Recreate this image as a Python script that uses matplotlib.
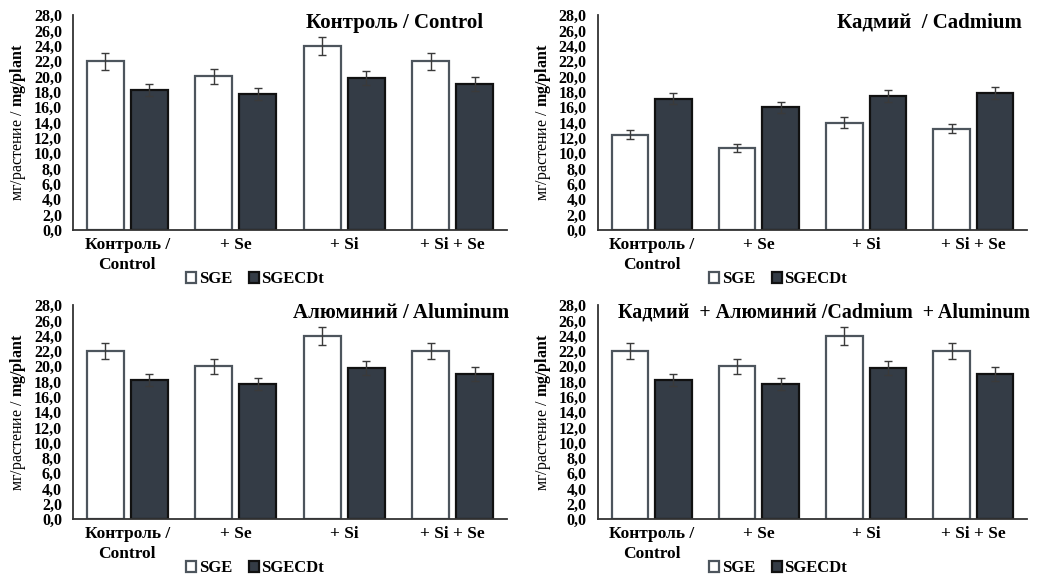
import numpy as np
import matplotlib.pyplot as plt

plt.rcParams['font.family'] = ['Liberation Serif', 'DejaVu Serif']
plt.rcParams['mathtext.fontset'] = 'custom'
plt.rcParams['mathtext.rm'] = 'Liberation Serif'
plt.rcParams['mathtext.bf'] = 'Liberation Serif:bold'

# ---- data ----
groups = ['Контроль /\nControl', '+ Se', '+ Si', '+ Si + Se']
series = ['SGE', 'SGECDt']

ctrl_sge = [22.0, 20.0, 24.0, 22.0]
ctrl_sgecdt = [18.2, 17.7, 19.8, 19.0]
ctrl_sge_err = [1.1, 1.0, 1.2, 1.1]
ctrl_sgecdt_err = [0.8, 0.8, 0.9, 0.9]

cd_sge = [12.4, 10.7, 14.0, 13.2]
cd_sgecdt = [17.1, 16.0, 17.5, 17.8]
cd_sge_err = [0.6, 0.5, 0.7, 0.6]
cd_sgecdt_err = [0.7, 0.7, 0.8, 0.8]

al_sge = [22.0, 20.0, 24.0, 22.0]
al_sgecdt = [18.2, 17.7, 19.8, 19.0]
al_sge_err = [1.1, 1.0, 1.2, 1.1]
al_sgecdt_err = [0.8, 0.8, 0.9, 0.9]

cdal_sge = [22.0, 20.0, 24.0, 22.0]
cdal_sgecdt = [18.2, 17.7, 19.8, 19.0]
cdal_sge_err = [1.1, 1.0, 1.2, 1.1]
cdal_sgecdt_err = [0.8, 0.8, 0.9, 0.9]

titles = ['Контроль / Control', 'Кадмий  / Cadmium',
          'Алюминий / Aluminum', 'Кадмий  + Алюминий /Cadmium  + Aluminum']
yticks = np.arange(0, 28.1, 2)
ylabel = r'мг/растение / $\mathbf{mg/plant}$'

# ---- layout (figure fractions) ----
panels = [
    ([0.0696, 0.602, 0.4137, 0.372], ctrl_sge, ctrl_sgecdt, ctrl_sge_err, ctrl_sgecdt_err, 0.945, 15),
    ([0.570, 0.602, 0.409, 0.372], cd_sge, cd_sgecdt, cd_sge_err, cd_sgecdt_err, 0.988, 15),
    ([0.0696, 0.102, 0.4137, 0.370], al_sge, al_sgecdt, al_sge_err, al_sgecdt_err, 1.005, 15),
    ([0.570, 0.102, 0.409, 0.370], cdal_sge, cdal_sgecdt, cdal_sge_err, cdal_sgecdt_err, 1.007, 14.4),
]

light_face = 'white'
light_edge = '#4d555d'
dark_face = '#343c46'
dark_edge = '#111111'
err_color = '#3a3a3a'

fig = plt.figure(figsize=(10.49, 5.78), dpi=100)

x = np.arange(len(groups))
w = 0.34
gap = 0.065

for (rect, v1, v2, e1, e2, tx, tsize), title in zip(panels, titles):
    ax = fig.add_axes(rect)
    ax.bar(x - (w + gap) / 2, v1, width=w, color=light_face, edgecolor=light_edge,
           linewidth=1.6, yerr=e1, error_kw=dict(ecolor=err_color, elinewidth=1, capsize=3, capthick=1),
           label=series[0])
    ax.bar(x + (w + gap) / 2, v2, width=w, color=dark_face, edgecolor=dark_edge,
           linewidth=1.6, yerr=e2, error_kw=dict(ecolor=err_color, elinewidth=1, capsize=3, capthick=1),
           label=series[1])
    ax.set_xlim(-0.5, len(groups) - 0.5)
    ax.set_ylim(0, 28)
    ax.set_yticks(yticks)
    ax.set_yticklabels([f'{t:.1f}'.replace('.', ',') for t in yticks],
                       fontsize=11.5, fontweight='bold')
    ax.set_xticks(x)
    ax.set_xticklabels(groups, fontsize=12.5, fontweight='bold', linespacing=1.35)
    ax.tick_params(axis='y', length=0, pad=8)
    ax.tick_params(axis='x', length=0, pad=5)
    for s in ['top', 'right']:
        ax.spines[s].set_visible(False)
    for s in ['left', 'bottom']:
        ax.spines[s].set_color('#333333')
        ax.spines[s].set_linewidth(1.3)
    ax.set_ylabel(ylabel, fontsize=11.5, labelpad=4)
    ax.text(tx, 0.965, title, transform=ax.transAxes, ha='right', va='center',
            fontsize=tsize, fontweight='bold')
    ax.legend(loc='center', bbox_to_anchor=(0.42, -0.23), ncol=2, frameon=False,
              prop=dict(size=12, weight='bold'), handlelength=0.6, handleheight=0.6,
              handletextpad=0.15, columnspacing=1.0, borderaxespad=0)

fig.savefig('out.png', dpi=100)
